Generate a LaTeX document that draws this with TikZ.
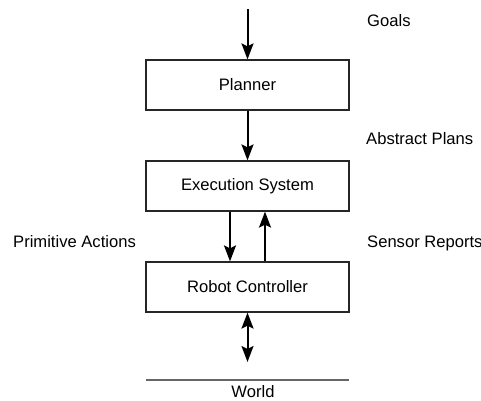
\documentclass[tikz,border=0pt]{standalone}
\usepackage{fontspec}
\setmainfont{Liberation Sans}
\usetikzlibrary{arrows.meta}
\begin{document}
\begin{tikzpicture}[x=1pt,y=-1pt,
  block/.style={draw=black!85,line width=1.2pt,minimum width=203pt,minimum height=50pt,inner sep=0pt,font=\fontsize{16.6}{18}\selectfont},
  lbl/.style={anchor=base west,inner sep=0pt,font=\fontsize{16.6}{18}\selectfont},
  flow/.style={line width=2pt,-{Stealth[length=16pt,width=12pt,inset=3pt]}},
  both/.style={line width=2pt,{Stealth[length=16pt,width=12pt,inset=3pt]}-{Stealth[length=16pt,width=12pt,inset=3pt]}}]
\useasboundingbox (0,0) rectangle (481,400);

% layer boxes
\node[block] (plan) at (247.5,85) {Planner};
\node[block] (exec) at (247.5,186) {Execution System};
\node[block] (robot) at (247.5,287) {Robot Controller};

% entry point and world line
\coordinate (top) at (247.5,9);
\coordinate (wl) at (146,380);
\coordinate (wr) at (349,380);
\coordinate (wa) at (247.5,362);
\draw[line width=2pt,black!60] (wl) -- (wr);
\node[inner sep=0pt,anchor=base,font=\fontsize{16.6}{18}\selectfont] (world) at (253,397) {World};

% flows between layers
\draw[flow] (top) -- (plan.north);
\draw[flow] (plan.south) -- (exec.north);
\draw[flow] (exec.south -| 230,0) -- (robot.north -| 230,0);
\draw[flow] (robot.north -| 265,0) -- (exec.south -| 265,0);
\draw[both] (robot.south) -- (wa);

% side labels
\node[lbl] (goals) at (367,26) {Goals};
\node[lbl] (abs) at (366,144) {Abstract Plans};
\node[lbl] (prim) at (13,247) {Primitive Actions};
\node[lbl] (sens) at (367,247) {Sensor Reports};
\end{tikzpicture}
\end{document}
